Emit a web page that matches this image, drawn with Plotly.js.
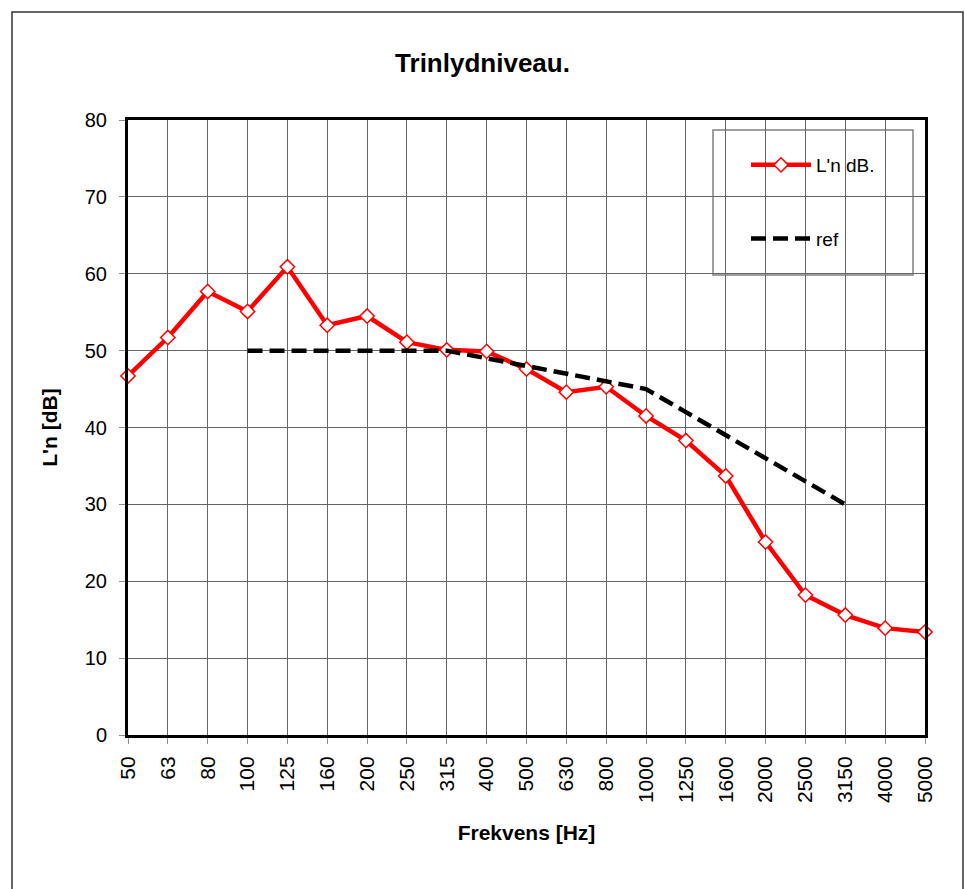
<!DOCTYPE html>
<html>
<head>
<meta charset="utf-8">
<script src="https://cdn.plot.ly/plotly-3.0.1.min.js"></script>
<style>
html,body{margin:0;padding:0;background:#fff;}
#chart{width:965px;height:889px;}
</style>
</head>
<body>
<div id="chart"></div>
<script>
var freqs = ["50","63","80","100","125","160","200","250","315","400","500","630","800","1000","1250","1600","2000","2500","3150","4000","5000"];
var lnValues = [46.7, 51.7, 57.7, 55.1, 60.9, 53.3, 54.5, 51.1, 50.1, 49.9, 47.6, 44.6, 45.3, 41.5, 38.3, 33.7, 25.1, 18.2, 15.6, 13.9, 13.4];
var refFreqs = ["100","125","160","200","250","315","400","500","630","800","1000","1250","1600","2000","2500","3150"];
var refValues = [50, 50, 50, 50, 50, 50, 49, 48, 47, 46, 45, 42, 39, 36, 33, 30];

var ML = 128, MT = 120, PW = 797, PH = 615;
function px(x){ return (x - ML) / PW; }
function py(y){ return (MT + PH - y) / PH; }

var font = "Liberation Sans, Arial, sans-serif";

var traces = [
  {
    x: freqs, y: lnValues, type: "scatter", mode: "lines+markers", name: "L'n dB.",
    line: {color: "#ff0000", width: 4.5},
    marker: {symbol: "diamond", size: 11, color: "#ffffff", line: {color: "#ff0000", width: 1.5}},
    legendgroup: "a", cliponaxis: false
  },
  {
    x: refFreqs, y: refValues, type: "scatter", mode: "lines", name: "ref",
    line: {color: "#000000", width: 4.5, dash: "15px,7px"},
    legendgroup: "b", cliponaxis: false
  }
];

var layout = {
  width: 965, height: 889,
  margin: {l: ML, r: 965 - ML - PW, t: MT, b: 889 - MT - PH},
  paper_bgcolor: "#ffffff", plot_bgcolor: "#ffffff",
  font: {family: font, color: "#000000", size: 20},
  title: {text: "<b>Trinlydniveau.</b>", font: {family: font, size: 26, color: "#000"}, x: 0.5, xanchor: "center", y: 1 - 63/889, yanchor: "middle"},
  xaxis: {
    type: "category", range: [0, 20], tickangle: -90,
    showgrid: true, gridcolor: "#666666", gridwidth: 1,
    showline: true, linecolor: "#000", linewidth: 3, mirror: true,
    ticks: "outside", ticklen: 6, tickcolor: "#909090", tickwidth: 1,
    tickfont: {size: 21, family: font}, ticklabelstandoff: 4,
    zeroline: false,
    title: {text: "<b>Frekvens [Hz]</b>", font: {size: 21, family: font}, standoff: 24}
  },
  yaxis: {
    range: [0, 80], dtick: 10,
    showgrid: true, gridcolor: "#666666", gridwidth: 1,
    showline: true, linecolor: "#000", linewidth: 3, mirror: true,
    ticks: "outside", ticklen: 6, tickcolor: "#909090", tickwidth: 1,
    tickfont: {size: 20, family: font}, ticklabelstandoff: 8,
    zeroline: false,
    title: {text: "<b>L'n [dB]</b>", font: {size: 21, family: font}, standoff: 22}
  },
  showlegend: true,
  legend: {
    x: px(746), y: py(146), xanchor: "left", yanchor: "top",
    bgcolor: "rgba(0,0,0,0)", borderwidth: 0,
    font: {size: 19, family: font},
    tracegroupgap: 46, itemwidth: 60
  },
  shapes: [
    {type: "rect", xref: "paper", yref: "paper", x0: px(713), x1: px(913), y0: py(275), y1: py(130),
     line: {color: "#808080", width: 1.5}, fillcolor: "#ffffff", layer: "below"},
    {type: "rect", xref: "paper", yref: "paper", x0: px(12), x1: px(963), y0: py(900), y1: py(12),
     line: {color: "#333333", width: 1.5}, fillcolor: "rgba(0,0,0,0)", layer: "above"}
  ]
};

Plotly.newPlot("chart", traces, layout, {staticPlot: true});
</script>
</body>
</html>
